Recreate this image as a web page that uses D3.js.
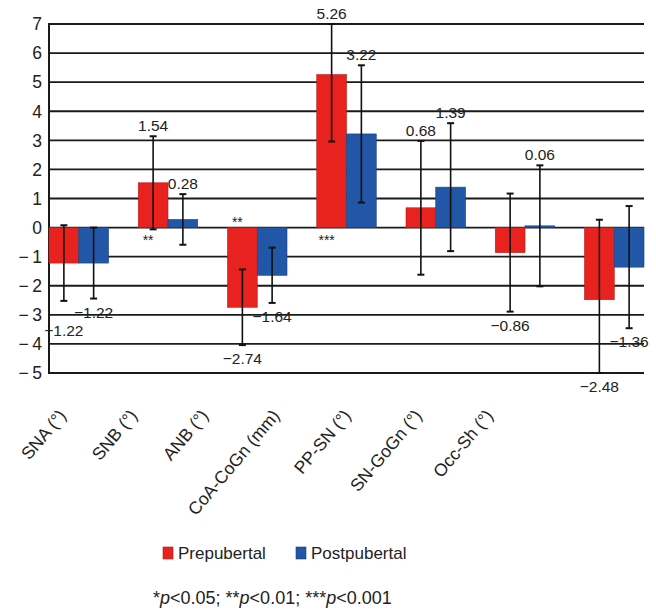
<!DOCTYPE html>
<html>
<head>
<meta charset="utf-8">
<script src="https://cdn.jsdelivr.net/npm/d3@7"></script>
<style>
  html, body { margin: 0; padding: 0; background: #fff; }
  svg { display: block; }
  text { font-family: "Liberation Sans", Arial, Helvetica, sans-serif; fill: #222; }
</style>
</head>
<body>
<svg id="chart" width="656" height="611"></svg>
<script>
// ---- data ----
const categories = ["SNA (°)", "SNB (°)", "ANB (°)", "CoA-CoGn (mm)", "PP-SN (°)", "SN-GoGn (°)", "Occ-Sh (°)"];
const seriesNames = ["Prepubertal", "Postpubertal"];
const prepubertal = [-1.22, 1.54, -2.74, 5.26, 0.68, -0.86, -2.48];
const postpubertal = [-1.22, 0.28, -1.64, 3.22, 1.39, 0.06, -1.36];
const prepubertalSD = [1.30, 1.60, 1.30, 2.30, 2.30, 2.03, 2.75];
const postpubertalSD = [1.22, 0.87, 0.95, 2.36, 2.20, 2.08, 2.10];
const significance = ["", "**", "**", "***", "", "", ""];
const yTicks = [-5, -4, -3, -2, -1, 0, 1, 2, 3, 4, 5, 6, 7];
const footnote = [["*", false], ["p", true], ["<0.05; **", false], ["p", true], ["<0.01; ***", false], ["p", true], ["<0.001", false]];

// ---- layout ----
const colors = ["#e8231f", "#2256a6"];
const strokeColors = ["#b81a16", "#183f80"];
const svg = d3.select("#chart");
const plotLeft = 49, plotRight = 644, plotTop = 24, plotBottom = 373;

const y = d3.scaleLinear().domain([-5, 7]).range([plotBottom, plotTop]);
const x0 = d3.scaleBand().domain(categories).range([plotLeft, plotRight]).paddingInner(1 / 3).paddingOuter(0);
const x1 = d3.scaleBand().domain(seriesNames).range([0, x0.bandwidth()]);
const xLabel = d3.scalePoint().domain(categories).range([67, 494]);

const rows = categories.map((c, i) => ({
  cat: c,
  vals: [
    { s: seriesNames[0], v: prepubertal[i], sd: prepubertalSD[i], k: 0 },
    { s: seriesNames[1], v: postpubertal[i], sd: postpubertalSD[i], k: 1 }
  ],
  sig: significance[i]
}));

// gridlines
svg.append("g").selectAll("line").data(yTicks).join("line")
  .attr("x1", plotLeft).attr("x2", plotRight)
  .attr("y1", d => y(d)).attr("y2", d => y(d))
  .attr("stroke", "#1a1a1a").attr("stroke-width", 1.8);

// left axis line
svg.append("line").attr("x1", plotLeft).attr("x2", plotLeft).attr("y1", plotTop - 1).attr("y2", plotBottom + 1)
  .attr("stroke", "#1a1a1a").attr("stroke-width", 2);

// y tick labels
const fmtTick = d => d < 0 ? "\u2212\u2009" + Math.abs(d) : String(d);
svg.append("g").selectAll("text").data(yTicks).join("text")
  .attr("x", 42).attr("y", d => y(d)).attr("dy", "0.36em")
  .attr("text-anchor", "end").attr("font-size", 17.5)
  .text(fmtTick);

// bars
const groups = svg.append("g").selectAll("g").data(rows).join("g")
  .attr("transform", d => `translate(${x0(d.cat)},0)`);

groups.selectAll("rect").data(d => d.vals).join("rect")
  .attr("x", d => x1(d.s))
  .attr("width", x1.bandwidth())
  .attr("y", d => y(Math.max(0, d.v)))
  .attr("height", d => Math.max(1.5, Math.abs(y(d.v) - y(0))))
  .attr("fill", d => colors[d.k])
  .attr("stroke", d => strokeColors[d.k]).attr("stroke-width", 0.6);

// error bars
const clampV = v => Math.max(-5, Math.min(7, v));
const capW = 7;
groups.each(function (row) {
  const g = d3.select(this);
  row.vals.forEach(d => {
    const cx = x1(d.s) + x1.bandwidth() / 2;
    const yTop = y(clampV(d.v + d.sd)), yBot = y(clampV(d.v - d.sd));
    g.append("line").attr("x1", cx).attr("x2", cx).attr("y1", yTop).attr("y2", yBot)
      .attr("stroke", "#111").attr("stroke-width", 1.6);
    [yTop, yBot].forEach(yy => {
      g.append("line").attr("x1", cx - capW / 2).attr("x2", cx + capW / 2).attr("y1", yy).attr("y2", yy)
        .attr("stroke", "#111").attr("stroke-width", 2);
    });
  });
});

// value labels
const fmtVal = d3.format(".2f");
groups.each(function (row) {
  const g = d3.select(this);
  const pos = row.vals.map(d => {
    const cx = x1(d.s) + x1.bandwidth() / 2;
    const yy = d.v >= 0 ? y(clampV(d.v + d.sd)) - 5 : y(clampV(d.v - d.sd)) + 19;
    return { cx, yy, d };
  });
  // simple collision avoidance between the two labels of a group
  if (Math.abs(pos[0].yy - pos[1].yy) < 15 && Math.abs(pos[0].cx - pos[1].cx) < 40) {
    if (pos[0].d.v < 0) pos[0].yy = Math.max(pos[0].yy, pos[1].yy) + 16;
    else pos[1].yy = Math.min(pos[0].yy, pos[1].yy) - 16;
  }
  pos.forEach(p => {
    g.append("text").attr("x", p.cx).attr("y", p.yy)
      .attr("text-anchor", "middle").attr("font-size", 15.5).attr("fill", "#333")
      .text(fmtVal(p.d.v));
  });
  if (row.sig) {
    const pre = row.vals[0];
    const sx = x1.bandwidth() / 2 - 5;
    const sy = pre.v >= 0 ? y(0) + 17 : y(0) - 1;
    g.append("text").attr("x", sx).attr("y", sy).attr("text-anchor", "middle")
      .attr("font-size", 14).attr("fill", "#333").text(row.sig);
  }
});

// category labels
svg.append("g").selectAll("text").data(categories).join("text")
  .attr("transform", d => `translate(${xLabel(d)},416) rotate(-50)`)
  .attr("text-anchor", "end").attr("font-size", 17.5)
  .text(d => d);

// legend
const legend = svg.append("g");
const legendX = [163, 296];
seriesNames.forEach((s, i) => {
  legend.append("rect").attr("x", legendX[i]).attr("y", 547).attr("width", 10).attr("height", 12)
    .attr("fill", colors[i]).attr("stroke", strokeColors[i]).attr("stroke-width", 0.6);
  legend.append("text").attr("x", legendX[i] + 15).attr("y", 559)
    .attr("font-size", 17).text(s);
});

// footnote
const fn = svg.append("text").attr("x", 153).attr("y", 604).attr("font-size", 18);
footnote.forEach(([t, it]) => {
  fn.append("tspan").attr("font-style", it ? "italic" : "normal").text(t);
});
</script>
</body>
</html>
